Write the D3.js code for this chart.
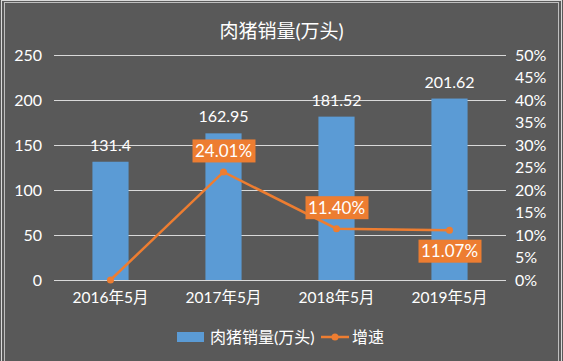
<!DOCTYPE html>
<html>
<head>
<meta charset="utf-8">
<script src="https://cdn.jsdelivr.net/npm/d3@7"></script>
<style>
  body { margin: 0; background: #595959; }
  text { font-family: Lato, "Noto Sans CJK SC", sans-serif; fill: #ffffff; }
</style>
</head>
<body>
<div id="chart"></div>
<script>
var title = "肉猪销量(万头)";
var categories = ["2016年5月", "2017年5月", "2018年5月", "2019年5月"];
var sales = [131.4, 162.95, 181.52, 201.62];
var growth = [0, 24.01, 11.40, 11.07];
var growthLabels = [null, "24.01%", "11.40%", "11.07%"];
var labelBelow = [false, false, false, true];
var leftTicks = [0, 50, 100, 150, 200, 250];
var rightTicks = [0, 5, 10, 15, 20, 25, 30, 35, 40, 45, 50];
var seriesNames = ["肉猪销量(万头)", "增速"];

var W = 563, H = 361;
var margin = {top: 55, right: 57, bottom: 81, left: 54};
var width = W - margin.left - margin.right;
var height = H - margin.top - margin.bottom;
var blue = "#5b9bd5", orange = "#ed7d31";

var svg = d3.select("#chart").append("svg")
  .attr("width", W)
  .attr("height", H);

svg.append("rect").attr("width", W).attr("height", H).attr("fill", "#595959");
// frame
svg.append("rect").attr("x", 1.5).attr("y", 0.5).attr("width", 560).attr("height", 362)
  .attr("fill", "none").attr("stroke", "#d9d9d9").attr("stroke-width", 1);
svg.append("rect").attr("x", 4.5).attr("y", 2.5).attr("width", 554).attr("height", 362)
  .attr("fill", "none").attr("stroke", "#bfbfbf").attr("stroke-width", 1);

svg.append("text")
  .attr("x", W / 2)
  .attr("y", 38)
  .style("text-anchor", "middle")
  .style("font-size", "19px")
  .text(title);

var g = svg.append("g")
  .attr("transform", "translate(" + margin.left + "," + margin.top + ")");

var xScale = d3.scaleBand()
  .domain(categories)
  .range([0, width])
  .paddingInner(0.68)
  .paddingOuter(0.34);

var yScale = d3.scaleLinear().domain([0, 250]).range([height, 0]);
var y2Scale = d3.scaleLinear().domain([0, 50]).range([height, 0]);

// gridlines
g.append("g").selectAll("line")
  .data(leftTicks)
  .join("line")
  .attr("x1", 0).attr("x2", width)
  .attr("y1", function(d) { return Math.round(yScale(d)) + 0.5; })
  .attr("y2", function(d) { return Math.round(yScale(d)) + 0.5; })
  .attr("stroke", "#d9d9d9")
  .attr("stroke-width", 1.2);

// left axis
var yAxis = g.append("g")
  .call(d3.axisLeft(yScale).tickValues(leftTicks).tickSize(0).tickPadding(12));
yAxis.select(".domain").remove();
yAxis.selectAll("text").style("font-size", "16px").attr("fill", "#fff");

// right axis
var y2Axis = g.append("g")
  .attr("transform", "translate(" + width + ",0)")
  .call(d3.axisRight(y2Scale).tickValues(rightTicks).tickSize(0).tickPadding(9)
    .tickFormat(function(d) { return d + "%"; }));
y2Axis.select(".domain").remove();
y2Axis.selectAll("text").style("font-size", "16px").attr("fill", "#fff");

// bottom axis
var xAxis = g.append("g")
  .attr("transform", "translate(0," + height + ")")
  .call(d3.axisBottom(xScale).tickSize(0).tickPadding(12));
xAxis.select(".domain").remove();
xAxis.selectAll("text").style("font-size", "15.5px").attr("fill", "#fff");

var cx = function(i) { return xScale(categories[i]) + xScale.bandwidth() / 2; };

// bars
g.selectAll(".bar")
  .data(sales)
  .join("rect")
  .attr("class", "bar")
  .attr("x", function(d, i) { return xScale(categories[i]); })
  .attr("y", function(d) { return yScale(d); })
  .attr("width", xScale.bandwidth())
  .attr("height", function(d) { return height - yScale(d); })
  .attr("fill", blue);

g.selectAll(".barlabel")
  .data(sales)
  .join("text")
  .attr("class", "barlabel")
  .attr("x", function(d, i) { return cx(i); })
  .attr("y", function(d) { return yScale(d) - 11; })
  .style("text-anchor", "middle")
  .style("font-size", "16px")
  .text(function(d) { return d; });

// line
var line = d3.line()
  .x(function(d, i) { return cx(i); })
  .y(function(d) { return y2Scale(d); });

g.append("path")
  .datum(growth)
  .attr("d", line)
  .attr("fill", "none")
  .attr("stroke", orange)
  .attr("stroke-width", 2.5);

g.selectAll(".dot")
  .data(growth)
  .join("circle")
  .attr("class", "dot")
  .attr("cx", function(d, i) { return cx(i); })
  .attr("cy", function(d) { return y2Scale(d); })
  .attr("r", 3.5)
  .attr("fill", orange);

// growth labels in boxes
var labData = growth.map(function(v, i) {
  return {v: v, i: i, text: growthLabels[i], below: labelBelow[i]};
}).filter(function(d) { return d.text !== null; });

var lab = g.selectAll(".glabel")
  .data(labData)
  .join("g")
  .attr("class", "glabel")
  .attr("transform", function(d) {
    var yy = y2Scale(d.v) + (d.below ? 21 : -21);
    return "translate(" + cx(d.i) + "," + yy + ")";
  });
lab.append("rect")
  .attr("x", -31).attr("y", -11.5)
  .attr("width", 63).attr("height", 23)
  .attr("fill", orange);
lab.append("text")
  .attr("y", 6)
  .style("text-anchor", "middle")
  .style("font-size", "17px")
  .text(function(d) { return d.text; });

// legend
var legend = svg.append("g");
legend.append("rect")
  .attr("x", 177).attr("y", 332).attr("width", 27).attr("height", 10)
  .attr("fill", blue);
legend.append("text")
  .attr("x", 210).attr("y", 343)
  .style("font-size", "16px")
  .text(seriesNames[0]);
legend.append("line")
  .attr("x1", 321).attr("x2", 349).attr("y1", 337).attr("y2", 337)
  .attr("stroke", orange).attr("stroke-width", 2.5);
legend.append("circle")
  .attr("cx", 335).attr("cy", 337).attr("r", 3.5).attr("fill", orange);
legend.append("text")
  .attr("x", 352).attr("y", 343)
  .style("font-size", "16px")
  .text(seriesNames[1]);
</script>
</body>
</html>
